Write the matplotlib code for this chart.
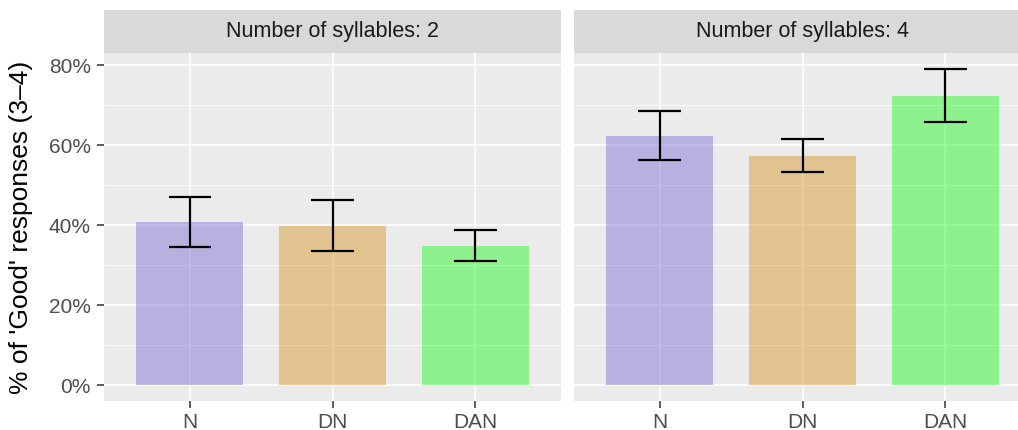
import matplotlib
matplotlib.use("Agg")
import matplotlib.pyplot as plt
from matplotlib.ticker import FuncFormatter

plt.rcParams['font.family'] = ['Liberation Sans', 'DejaVu Sans']

categories = ["N", "DN", "DAN"]
facets = ["Number of syllables: 2", "Number of syllables: 4"]
pct_2 = [40.9, 39.9, 34.8]
low_2 = [34.6, 33.7, 31.0]
high_2 = [47.2, 46.3, 38.9]
pct_4 = [62.4, 57.4, 72.4]
low_4 = [56.4, 53.4, 65.8]
high_4 = [68.6, 61.7, 79.2]
bar_colors = ["#6A5ACD", "#D08703", "#00FF00"]

W, H = 1018, 430
fig = plt.figure(figsize=(W / 100, H / 100), dpi=100)

# panel geometry in pixels (left, right); second panel runs past the edge
panels = [(104.3, 561), (574, 1031)]
top_strip, bot_strip, bot_panel = 10, 52.7, 401

data = [(pct_2, low_2, high_2), (pct_4, low_4, high_4)]

for i, ((l, r), (vals, lo, hi)) in enumerate(zip(panels, data)):
    ax = fig.add_axes([l / W, 1 - bot_panel / H, (r - l) / W, (bot_panel - bot_strip) / H])
    ax.set_facecolor("#EBEBEB")
    x = range(len(categories))
    ax.bar(x, vals, width=0.75, color=bar_colors, alpha=0.4, zorder=3)
    ax.vlines(list(x), lo, hi, color="black", lw=1.6, zorder=4)
    for xi, a, b in zip(x, lo, hi):
        ax.hlines([a, b], xi - 0.15, xi + 0.15, color="black", lw=1.6, zorder=4)
    ax.set_xlim(-0.6, 2.6)
    ax.set_ylim(-3.96, 83.2)
    ax.set_yticks([0, 20, 40, 60, 80])
    ax.set_yticks([10, 30, 50, 70], minor=True)
    ax.set_xticks(list(x))
    ax.set_xticklabels(categories)
    ax.yaxis.set_major_formatter(FuncFormatter(lambda v, p: f"{v:.0f}%"))
    ax.grid(which="major", color="white", lw=1.1, zorder=1)
    ax.grid(which="minor", axis="y", color="white", lw=0.55, zorder=1)
    ax.set_axisbelow(True)
    for s in ax.spines.values():
        s.set_visible(False)
    ax.tick_params(axis="both", which="major", length=4.8, width=1.1, color="#333333",
                   labelcolor="#4D4D4D", labelsize=15)
    ax.tick_params(axis="y", which="major", pad=5)
    ax.tick_params(axis="x", which="major", pad=3.5)
    ax.tick_params(axis="both", which="minor", length=0)
    if i == 1:
        ax.tick_params(axis="y", which="major", length=0, labelleft=False)

    sax = fig.add_axes([l / W, 1 - bot_strip / H, (r - l) / W, (bot_strip - top_strip) / H])
    sax.set_facecolor("#D9D9D9")
    sax.set_xticks([])
    sax.set_yticks([])
    for s in sax.spines.values():
        s.set_visible(False)
    sax.text(0.5, 0.5, facets[i], transform=sax.transAxes, ha="center", va="center",
             fontsize=15.5, color="#1A1A1A")

fig.text(21 / W, 1 - 227.5 / H, "% of 'Good' responses (3\u20134)", rotation=90,
         ha="center", va="center", fontsize=19, color="black")

fig.savefig("out.png", dpi=100)
